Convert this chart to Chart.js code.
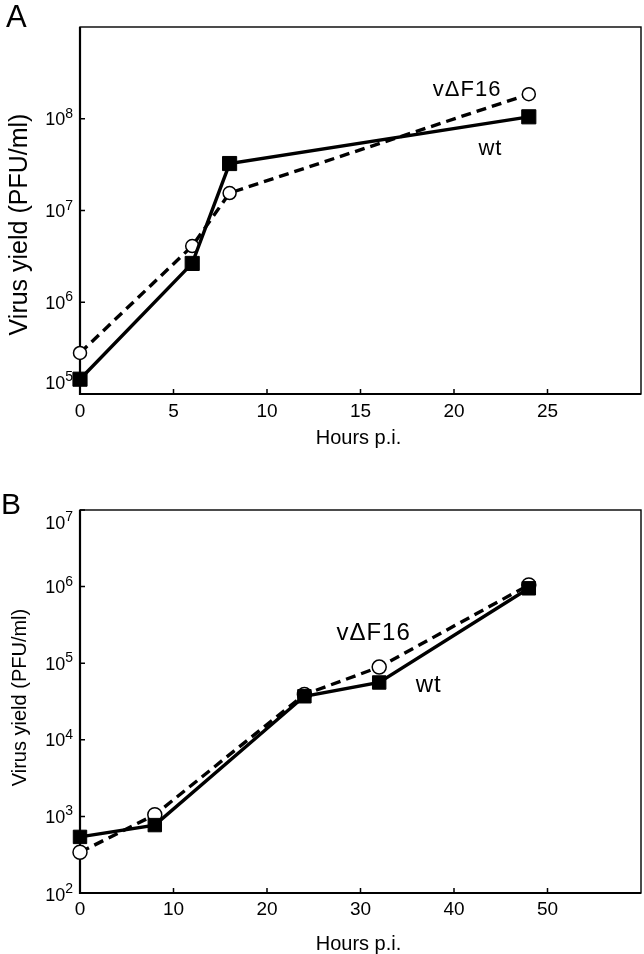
<!DOCTYPE html>
<html>
<head>
<meta charset="utf-8">
<script src="https://cdn.jsdelivr.net/npm/chart.js@4.4.1/dist/chart.umd.min.js"></script>
<style>
  body { margin: 0; background: #fff; width: 644px; height: 954px; overflow: hidden; }
  .panel { position: absolute; left: 0; width: 644px; }
  #wrapA { top: 0; height: 460px; }
  #wrapB { top: 460px; height: 494px; }
</style>
</head>
<body>
<div class="panel" id="wrapA"><canvas id="chartA" width="644" height="460"></canvas></div>
<div class="panel" id="wrapB"><canvas id="chartB" width="644" height="494"></canvas></div>
<script>
// panel A
const hoursA = [0, 6, 8, 24];
const wtA = [1.45e5, 2.65e6, 3.25e7, 1.05e8];
const mutA = [2.8e5, 4.1e6, 1.55e7, 1.85e8];
const xTicksA = [0, 5, 10, 15, 20, 25];
const yExpA = [5, 6, 7, 8];

// panel B
const hoursB = [0, 8, 24, 32, 48];
const wtB = [540, 770, 3.7e4, 5.6e4, 9.5e5];
const mutB = [340, 1050, 3.9e4, 8.9e4, 1.05e6];
const xTicksB = [0, 10, 20, 30, 40, 50];
const yExpB = [2, 3, 4, 5, 6, 7];

const FONT = '"Liberation Sans", Arial, sans-serif';

function toXY(xs, ys) {
  return xs.map((x, i) => ({ x: x, y: ys[i] }));
}

// axes box, inward ticks, tick labels, titles, line labels
const framePlugin = {
  id: 'frame',
  beforeDatasetsDraw(chart, args, o) {
    const { ctx, chartArea: a, scales: { x, y } } = chart;
    ctx.save();
    ctx.strokeStyle = '#000';
    ctx.lineWidth = 1.4;
    ctx.strokeRect(a.left, a.top, a.right - a.left, a.bottom - a.top);
    ctx.lineWidth = 2.2;
    ctx.beginPath();
    ctx.moveTo(a.left, a.top);
    ctx.lineTo(a.left, a.bottom);
    ctx.lineTo(a.right, a.bottom);
    ctx.stroke();

    ctx.lineWidth = 1.5;
    ctx.beginPath();
    o.xTicks.forEach(v => {
      const px = x.getPixelForValue(v);
      ctx.moveTo(px, a.bottom);
      ctx.lineTo(px, a.bottom - 5);
    });
    o.yExp.forEach(e => {
      const py = y.getPixelForValue(Math.pow(10, e));
      ctx.moveTo(a.left, py);
      ctx.lineTo(a.left + 5, py);
    });
    ctx.stroke();

    // x tick labels
    ctx.fillStyle = '#000';
    ctx.font = '19px ' + FONT;
    ctx.textAlign = 'center';
    ctx.textBaseline = 'middle';
    o.xTicks.forEach(v => {
      ctx.fillText(String(v), x.getPixelForValue(v), a.bottom + o.xLabelGap);
    });

    // y tick labels 10^n
    o.yExp.forEach(e => {
      const py = y.getPixelForValue(Math.pow(10, e)) + (o.yShift[e] || 0);
      ctx.font = '18px ' + FONT;
      const w10 = ctx.measureText('10').width;
      ctx.font = '14px ' + FONT;
      const wSup = ctx.measureText(String(e)).width;
      const x0 = 73 - w10 - wSup;
      ctx.textAlign = 'left';
      ctx.textBaseline = 'alphabetic';
      ctx.font = '18px ' + FONT;
      ctx.fillText('10', x0, py + 6.5);
      ctx.font = '14px ' + FONT;
      ctx.fillText(String(e), x0 + w10, py - 1);
    });

    // x title
    ctx.font = '20px ' + FONT;
    ctx.textAlign = 'center';
    ctx.textBaseline = 'middle';
    ctx.fillText('Hours p.i.', (a.left + a.right) / 2 - 2, a.bottom + o.xTitleGap);

    // y title
    ctx.save();
    ctx.translate(20, (a.top + a.bottom) / 2 + o.yTitleShift);
    ctx.rotate(-Math.PI / 2);
    ctx.font = o.yTitleSize + 'px ' + FONT;
    ctx.fillText('Virus yield (PFU/ml)', 0, 0);
    ctx.restore();

    // panel letter
    ctx.font = o.letterSize + 'px ' + FONT;
    ctx.textAlign = 'left';
    ctx.textBaseline = 'alphabetic';
    ctx.fillText(o.letter, o.letterX, o.letterY);
    ctx.restore();
  },
  afterDatasetsDraw(chart, args, o) {
    const { ctx, scales: { x, y } } = chart;
    ctx.save();
    ctx.fillStyle = '#000';
    ctx.textAlign = 'center';
    ctx.textBaseline = 'middle';
    ctx.letterSpacing = '1px';
    o.notes.forEach(n => {
      ctx.font = n.size + 'px ' + FONT;
      ctx.fillText(n.text, x.getPixelForValue(n.x), y.getPixelForValue(n.y));
    });
    ctx.restore();
  }
};

function makeChart(id, xs, wt, mut, xMax, yMin, yMax, frame, pad, xAxisH, mk) {
  return new Chart(document.getElementById(id), {
    type: 'line',
    data: {
      datasets: [
        {
          label: 'wt',
          data: toXY(xs, wt),
          borderColor: '#000',
          borderWidth: 3.4,
          pointStyle: 'rect',
          pointRadius: mk.rect,
          pointBackgroundColor: '#000',
          pointBorderColor: '#000',
          pointBorderWidth: 1,
          clip: false
        },
        {
          label: 'v\u0394F16',
          data: toXY(xs, mut),
          borderColor: '#000',
          borderWidth: 3.4,
          borderDash: [10, 6],
          pointStyle: 'circle',
          pointRadius: mk.circle,
          pointBackgroundColor: '#fff',
          pointBorderColor: '#000',
          pointBorderWidth: 1.5,
          clip: false
        }
      ]
    },
    options: {
      responsive: false,
      animation: false,
      layout: { padding: pad, autoPadding: false },
      plugins: {
        legend: { display: false },
        tooltip: { enabled: false },
        frame: frame
      },
      scales: {
        x: {
          type: 'linear',
          min: 0,
          max: xMax,
          ticks: { display: false },
          grid: { display: false },
          border: { display: false },
          afterFit: s => { s.height = xAxisH; }
        },
        y: {
          type: 'logarithmic',
          min: yMin,
          max: yMax,
          ticks: { display: false },
          grid: { display: false },
          border: { display: false },
          afterFit: s => { s.width = 0; }
        }
      }
    },
    plugins: [framePlugin]
  });
}

makeChart('chartA', hoursA, wtA, mutA, 30, 1e5, 1e9, {
  xTicks: xTicksA, yExp: yExpA, yShift: { 5: -12 },
  xLabelGap: 18, xTitleGap: 44, yTitleSize: 25, yTitleShift: 14,
  letter: 'A', letterSize: 31, letterX: 6, letterY: 27,
  notes: [
    { text: 'v\u0394F16', x: 20.7, y: 2.07e8, size: 22 },
    { text: 'wt', x: 21.95, y: 4.7e7, size: 22 }
  ]
}, { left: 80, right: 3, top: 27, bottom: 0 }, 66, { rect: 10, circle: 6.5 });

makeChart('chartB', hoursB, wtB, mutB, 60, 1e2, 1e7, {
  xTicks: xTicksB, yExp: yExpB, yShift: { 7: 12, 2: 1 },
  xLabelGap: 17, xTitleGap: 51, yTitleSize: 20, yTitleShift: -4,
  letter: 'B', letterSize: 30, letterX: 1, letterY: 54,
  notes: [
    { text: 'v\u0394F16', x: 31.4, y: 2.45e5, size: 24 },
    { text: 'wt', x: 37.3, y: 5.1e4, size: 24 }
  ]
}, { left: 80, right: 3, top: 50, bottom: 0 }, 61, { rect: 9.5, circle: 7 });
</script>
</body>
</html>
